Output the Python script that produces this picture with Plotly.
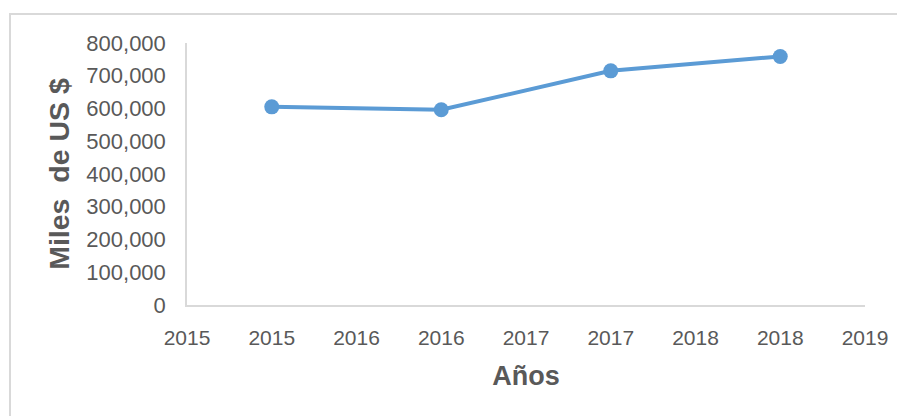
import numpy as np
import plotly.graph_objects as go

years = [2015, 2016, 2017, 2018]
values = [605000, 596000, 715000, 759000]
x_ticks = list(np.arange(2014.5, 2018.51, 0.5))
x_ticktext = [str(int(np.floor(v + 0.5))) for v in x_ticks]
y_ticks = list(range(0, 800001, 100000))

grey = "#595959"
fig = go.Figure()
fig.add_trace(go.Scatter(
    x=years, y=values, mode="lines+markers",
    line=dict(color="#5B9BD5", width=4),
    marker=dict(color="#5B9BD5", size=15),
    showlegend=False, cliponaxis=False,
))
fig.update_layout(
    width=897, height=408,
    margin=dict(l=179, r=40, t=35, b=111),
    paper_bgcolor="white", plot_bgcolor="white",
    font=dict(family="Liberation Sans, Arial, sans-serif", color=grey, size=20),
    xaxis=dict(
        range=[2014.5, 2018.5], tickvals=x_ticks, ticktext=x_ticktext,
        showgrid=False, zeroline=False, showline=True, linecolor="#d9d9d9", linewidth=1.5,
        ticks="", ticklabelstandoff=13, tickfont=dict(size=21, color=grey),
        title=dict(text="<b>Años</b>", font=dict(size=27, color=grey), standoff=18),
    ),
    yaxis=dict(
        range=[0, 800000], tickvals=y_ticks, tickformat=",",
        showgrid=False, zeroline=False, showline=True, linecolor="#d9d9d9", linewidth=1.5,
        ticks="", ticklabelstandoff=15, tickfont=dict(size=22, color=grey),
        title=dict(text="<b>Miles  de US $</b>", font=dict(size=28.5, color=grey), standoff=8),
    ),
    shapes=[dict(
        type="rect", xref="paper", yref="paper",
        xsizemode="pixel", ysizemode="pixel", xanchor=0, yanchor=0,
        x0=-177, x1=730, y0=-120, y1=291,
        line=dict(color="#d9d9d9", width=2), fillcolor="rgba(0,0,0,0)", layer="below",
    )],
)
fig.write_html("out.html")
